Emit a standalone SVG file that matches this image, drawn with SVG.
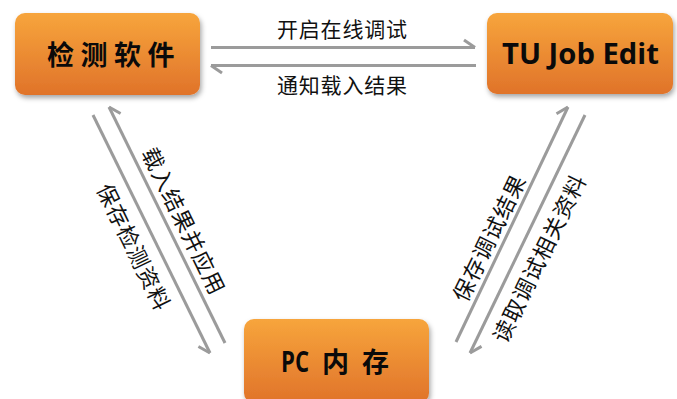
<svg xmlns="http://www.w3.org/2000/svg" width="677" height="399" viewBox="0 0 677 399">
  <defs>
    <linearGradient id="og" x1="0" y1="0" x2="0" y2="1">
      <stop offset="0" stop-color="#F7A53C"/>
      <stop offset="1" stop-color="#E0732A"/>
    </linearGradient>
    <filter id="sh" x="-10%" y="-10%" width="125%" height="135%">
      <feDropShadow dx="1.5" dy="3" stdDeviation="2.5" flood-color="#000" flood-opacity="0.35"/>
    </filter>
    <marker id="halfL" markerUnits="userSpaceOnUse" markerWidth="16" markerHeight="16" refX="0" refY="0" viewBox="-14 -10 16 16" orient="auto" overflow="visible">
      <path d="M0,0 L-11,-7.5" fill="none" stroke="#9B9B9B" stroke-width="3" stroke-linecap="butt"/>
    </marker>
    <marker id="halfR" markerUnits="userSpaceOnUse" markerWidth="16" markerHeight="16" refX="0" refY="0" viewBox="-14 -6 16 16" orient="auto" overflow="visible">
      <path d="M0,0 L-11,7.5" fill="none" stroke="#9B9B9B" stroke-width="3" stroke-linecap="butt"/>
    </marker>
    <style>
      .box { fill: url(#og); filter: url(#sh); }
      .conn { fill: none; stroke: #9B9B9B; stroke-width: 3; }
      .cl { font-family: "Noto Sans CJK SC", "Noto Sans", sans-serif; font-size: 21px; fill: #111; letter-spacing: 0.8px; }
      .rl { font-family: "Noto Sans CJK SC", "Noto Sans", sans-serif; font-size: 22px; fill: #111; letter-spacing: 1px; text-anchor: middle; dominant-baseline: central; }
      .bl { font-family: "Noto Sans CJK SC", sans-serif; font-weight: bold; font-size: 27px; fill: #0a0a0a; }
      .el { font-family: "Open Sans", "Noto Sans", sans-serif; font-weight: bold; font-size: 29px; fill: #0a0a0a; }
    </style>
  </defs>

  <g id="connectors">
    <line class="conn" x1="211" y1="47.5" x2="475" y2="47.5" marker-end="url(#halfL)"/>
    <line class="conn" x1="476" y1="65.5" x2="211" y2="65.5" marker-end="url(#halfL)"/>
    <line class="conn" x1="93" y1="115" x2="210" y2="353" marker-end="url(#halfR)"/>
    <line class="conn" x1="225" y1="343" x2="109" y2="107" marker-end="url(#halfR)"/>
    <line class="conn" x1="456" y1="342" x2="568" y2="107" marker-end="url(#halfL)"/>
    <line class="conn" x1="585" y1="115" x2="470" y2="353" marker-end="url(#halfL)"/>
    <text class="cl" x="277" y="36.5">开启在线调试</text>
    <text class="cl" x="277" y="93">通知载入结果</text>
    <text class="rl" transform="translate(185,220) rotate(64)" x="0.5" y="0">载入结果并应用</text>
    <text class="rl" transform="translate(135,246) rotate(64)" x="0.5" y="0">保存检测资料</text>
    <text class="rl" transform="translate(487.5,237.5) rotate(-64)" x="0.5" y="0">保存调试结果</text>
    <text class="rl" transform="translate(537.5,258) rotate(-64)" x="0.5" y="0">读取调试相关资料</text>
  </g>

  <g id="node-software">
    <rect class="box" x="15" y="13" width="185" height="82" rx="10"/>
    <text class="bl" x="47" y="65" letter-spacing="6.5">检测软件</text>
  </g>

  <g id="node-tujob">
    <rect class="box" x="487" y="13" width="186" height="81" rx="10"/>
    <text class="el" x="502" y="63.5" textLength="157" lengthAdjust="spacingAndGlyphs">TU Job Edit</text>
  </g>

  <g id="node-pc">
    <rect class="box" x="244" y="319" width="185" height="84" rx="10"/>
    <text class="bl" y="371.5"><tspan class="el" x="281" font-size="28" textLength="28" lengthAdjust="spacingAndGlyphs">PC</tspan> <tspan x="322">内</tspan><tspan x="362">存</tspan></text>
  </g>
</svg>
